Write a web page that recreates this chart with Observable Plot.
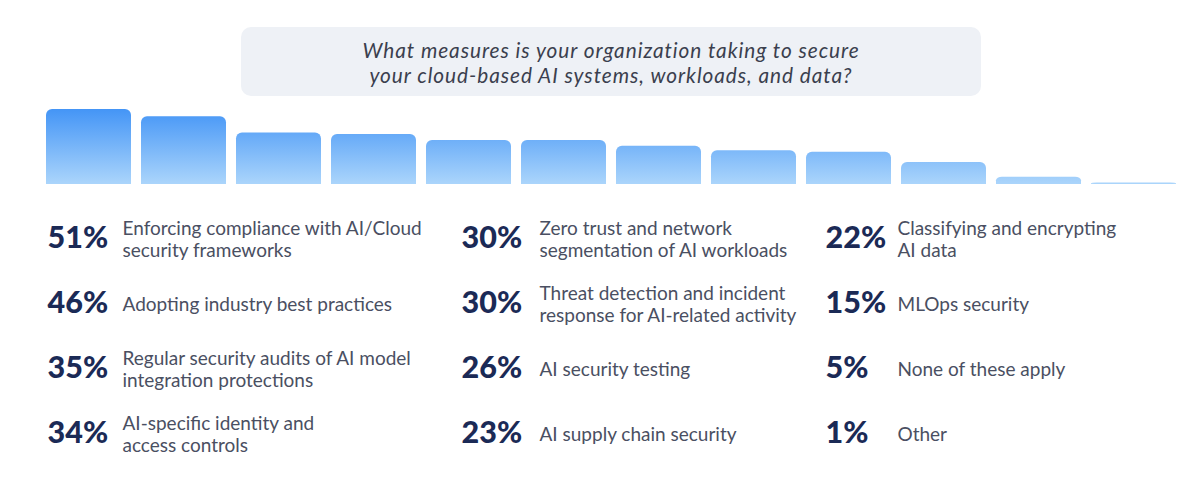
<!DOCTYPE html>
<html>
<head>
<meta charset="utf-8">
<script src="https://cdn.jsdelivr.net/npm/d3@7"></script>
<script src="https://cdn.jsdelivr.net/npm/@observablehq/plot@0.6"></script>
<style>
  html, body { margin: 0; padding: 0; background: #ffffff; }
  #wrap { position: relative; width: 1200px; height: 502px; overflow: hidden; font-family: Lato, "Open Sans", sans-serif; }
  #title {
    position: absolute; left: 241px; top: 27px; width: 740px; height: 69px;
    background: #eef1f6; border-radius: 10px;
    display: flex; align-items: center; justify-content: center; text-align: center;
    font-style: italic; font-size: 20.8px; letter-spacing: 0.95px; line-height: 25px; color: #3b3f4e;
  }
  #bars { position: absolute; left: 0; top: 0; }
  #labels { position: absolute; left: 0; top: 200px; }
</style>
</head>
<body>
<div id="wrap">
  <div id="bars"></div>
  <div id="title"></div>
  <div id="labels"></div>
</div>
<script>
const titleLines = [
  "What measures is your organization taking to secure",
  "your cloud-based AI systems, workloads, and data?"
];
const categories = [
  "Enforcing compliance with AI/Cloud\nsecurity frameworks",
  "Adopting industry best practices",
  "Regular security audits of AI model\nintegration protections",
  "AI-specific identity and\naccess controls",
  "Zero trust and network\nsegmentation of AI workloads",
  "Threat detection and incident\nresponse for AI-related activity",
  "AI security testing",
  "AI supply chain security",
  "Classifying and encrypting\nAI data",
  "MLOps security",
  "None of these apply",
  "Other"
];
const values = [51, 46, 35, 34, 30, 30, 26, 23, 22, 15, 5, 1];

document.getElementById("title").innerHTML = titleLines.join("<br>");

const data = categories.map((label, i) => ({
  i, label, value: values[i], col: Math.floor(i / 4), row: i % 4
}));

// Gradient defs mark
function gradientDefs(index, scales) {
  const defs = d3.create("svg:defs");
  const g = defs.append("linearGradient")
    .attr("id", "barGrad")
    .attr("gradientUnits", "userSpaceOnUse")
    .attr("x1", 0).attr("x2", 0)
    .attr("y1", scales.y(d3.max(values)))
    .attr("y2", scales.y(0));
  g.append("stop").attr("offset", "0%").attr("stop-color", "#4495f6");
  g.append("stop").attr("offset", "100%").attr("stop-color", "#abd5fb");
  return defs.node();
}

const bars = Plot.plot({
  width: 1200,
  height: 200,
  marginLeft: 45,
  marginRight: 23,
  marginTop: 109,
  marginBottom: 16,
  x: { type: "band", domain: data.map(d => d.i), paddingInner: 0.107, paddingOuter: 0, axis: null },
  y: { domain: [0, d3.max(values)], axis: null },
  marks: [
    gradientDefs,
    Plot.barY(data, { x: "i", y: "value", fill: "url(#barGrad)", rx: 6 }),
    Plot.barY(data, { x: "i", y1: 0, y2: d => d.value / 2, fill: "url(#barGrad)" })
  ]
});
document.getElementById("bars").appendChild(bars);

const colOffsets = [75, 78, 72];
const labelMarks = [0, 1, 2].map(c =>
  Plot.text(data, {
    filter: d => d.col === c,
    x: "col", y: "row", text: "label",
    dx: colOffsets[c],
    textAnchor: "start", lineAnchor: "middle", lineHeight: 1.16,
    fontSize: 19, fill: "#4a4f62", fontFamily: "Lato"
  })
);

const labels = Plot.plot({
  width: 1200,
  height: 302,
  margin: 0,
  x: { type: "linear", domain: [0, 1, 2], range: [47, 461, 825], axis: null },
  y: { type: "point", domain: [0, 1, 2, 3], range: [37, 233], padding: 0, axis: null },
  marks: [
    Plot.text(data, {
      x: "col", y: "row", text: d => d.value + "%",
      textAnchor: "start", lineAnchor: "middle",
      fontSize: 30.5, fontWeight: 900, fill: "#1b2a56", fontFamily: "Lato"
    }),
    ...labelMarks
  ]
});
document.getElementById("labels").appendChild(labels);
</script>
</body>
</html>
